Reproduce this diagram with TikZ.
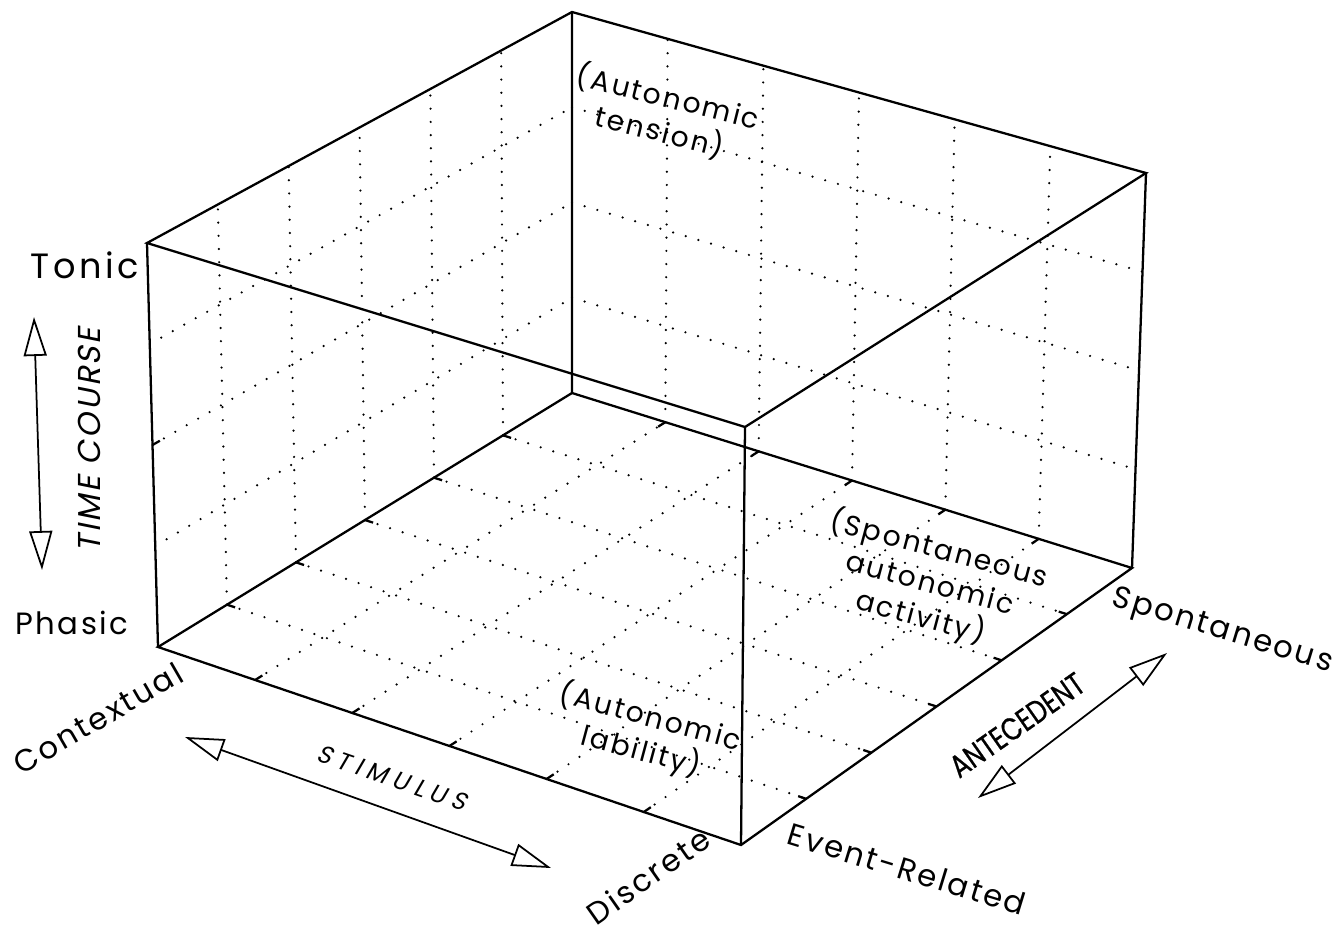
\documentclass[tikz,border=0pt]{standalone}
\usepackage{fontspec}
\setmainfont{Poppins}[LetterSpace=8]
\newfontfamily\slantfont{Poppins}[LetterSpace=8,FakeSlant=0.2]
\newfontfamily\capsfont{Poppins}[FakeStretch=0.8,FakeBold=0.6]
\usetikzlibrary{arrows.meta,calc}

\begin{document}
\begin{tikzpicture}[x=0.02cm,y=-0.02cm,
    edge/.style={line width=1.3pt},
    gridline/.style={line width=1.4pt,line cap=round,dash pattern=on 0pt off 7.5pt},
    axisarrow/.style={line width=1pt,
      {Triangle[open,length=0.78cm,width=0.46cm]}-{Triangle[open,length=0.78cm,width=0.46cm]}},
    axislabel/.style={font=\fontsize{17.5}{20}\selectfont,inner sep=0pt},
    celltext/.style={font=\fontsize{16}{20}\selectfont,align=center,inner sep=0pt}]
\useasboundingbox (0,0) rectangle (1341,936);

% corners of the box
\coordinate (A) at (158,647);
\coordinate (B) at (741,845);
\coordinate (C) at (1132,568);
\coordinate (D) at (572,393);
\coordinate (E) at (147,243);
\coordinate (F) at (572,12);
\coordinate (G) at (1146,173);
\coordinate (H) at (745,427);

% dotted grid on the two walls and the floor, ticks on the floor edges
\foreach \k in {1,...,5}{
  \draw[gridline] ($(A)!\k/6!(D)$) -- ($(E)!\k/6!(F)$);
  \draw[gridline] ($(D)!\k/6!(C)$) -- ($(F)!\k/6!(G)$);
  \coordinate (p) at ($(A)!\k/6!(B)$);
  \coordinate (q) at ($(D)!\k/6!(C)$);
  \draw[gridline] (p) -- (q);
  \draw[edge] (p) -- ($(p)!0.17cm!(q)$);
  \draw[edge] (q) -- ($(q)!0.17cm!(p)$);
  \coordinate (r) at ($(A)!\k/6!(D)$);
  \coordinate (s) at ($(B)!\k/6!(C)$);
  \draw[gridline] (r) -- (s);
  \draw[edge] (r) -- ($(r)!0.17cm!(s)$);
  \draw[edge] (s) -- ($(s)!0.17cm!(r)$);
}
\foreach \j in {1,2,3}{
  \draw[gridline] ($(A)!\j/4!(E)$) -- ($(D)!\j/4!(F)$);
  \draw[gridline] ($(D)!\j/4!(F)$) -- ($(C)!\j/4!(G)$);
}
\coordinate (mid) at ($(A)!0.5!(E)$);
\draw[edge] (mid) -- ($(mid)!0.17cm!($(D)!0.5!(F)$)$);

% box
\draw[edge] (A) -- (B) -- (C) -- (D) -- cycle;
\draw[edge] (E) -- (H) -- (G) -- (F) -- cycle;
\draw[edge] (A) -- (E) (B) -- (H) (C) -- (G) (D) -- (F);

% axis names
\node[axislabel,font=\addfontfeature{LetterSpace=10}\fontsize{20}{22}\selectfont] (tonic) at (85,265) {Tonic};
\node[axislabel] (phasic) at (72,623) {Phasic};
\node[axislabel,rotate=30] (contextual) at (98,718) {Contextual};
\node[axislabel,rotate=35] (discrete) at (648,876) {Discrete};
\node[axislabel,rotate=-17] (eventrel) at (907,869) {Event-Related};
\node[axislabel,rotate=-17] (spont) at (1222,632) {Spontaneous};

\node[font=\slantfont\fontsize{18}{20}\selectfont,rotate=90,inner sep=0pt] (timecourse) at (89,440) {TIME COURSE};
\node[font=\slantfont\addfontfeature{LetterSpace=25}\fontsize{14}{16}\selectfont,rotate=-19,inner sep=0pt] (stimulus) at (392,778) {STIMULUS};
\node[font=\capsfont\fontsize{18}{20}\selectfont,rotate=35,inner sep=0pt] (antecedent) at (1017,725) {ANTECEDENT};

% double arrows
\coordinate (tc top) at (34,317);
\coordinate (tc bot) at (42,570);
\draw[axisarrow] (tc top) -- (tc bot);
\coordinate (st left) at (185,737);
\coordinate (st right) at (551,868);
\draw[axisarrow] (st left) -- (st right);
\coordinate (an low) at (978,798);
\coordinate (an high) at (1167,653);
\draw[axisarrow] (an low) -- (an high);

% cell names
\node[celltext,rotate=-14] (tension) at (664,114) {(Autonomic\\tension)};
\node[celltext,rotate=-15] (activity) at (930,583) {(Spontaneous\\autonomic\\activity)};
\node[celltext,rotate=-15] (lability) at (646,734) {(Autonomic\\lability)};
\end{tikzpicture}
\end{document}
